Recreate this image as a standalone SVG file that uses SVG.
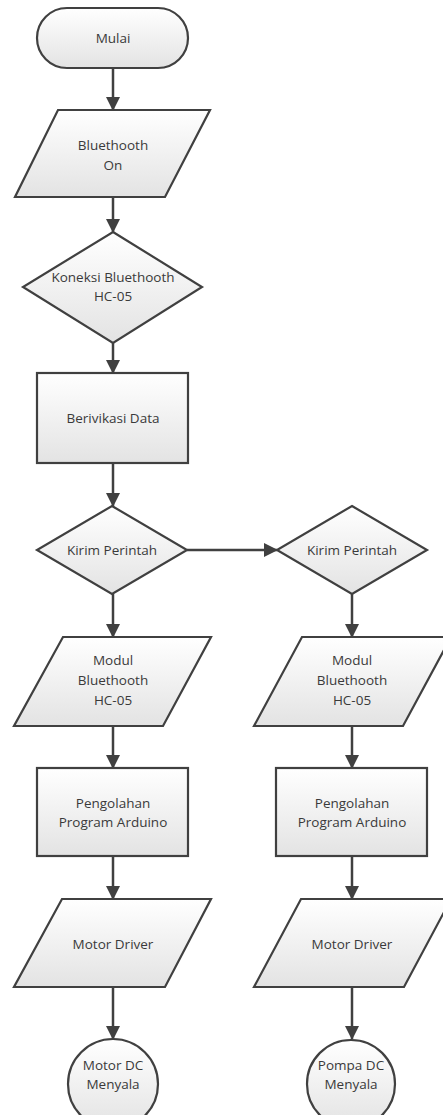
<svg xmlns="http://www.w3.org/2000/svg" width="443" height="1115" viewBox="0 0 443 1115">
<defs>
<linearGradient id="g" x1="0" y1="0" x2="0" y2="1">
<stop offset="0" stop-color="#ffffff"/>
<stop offset="1" stop-color="#e3e3e3"/>
</linearGradient>
<marker id="ah" markerWidth="14" markerHeight="14" refX="13" refY="7" orient="auto" markerUnits="userSpaceOnUse">
<path d="M0,0 L14,7 L0,14 Z" fill="#404040"/>
</marker>
</defs>
<style>
.s{fill:url(#g);stroke:#404040;stroke-width:2.2}
.t{font-family:"Open Sans","Liberation Sans",sans-serif;font-size:13.5px;fill:#3a3a3a;text-anchor:middle}
.c{stroke:#404040;stroke-width:2.5;fill:none;marker-end:url(#ah)}
</style>
<rect width="443" height="1115" fill="#fff"/>
<g id="connectors">
<line class="c" x1="113" y1="68" x2="113" y2="110"/>
<line class="c" x1="113" y1="197" x2="113" y2="232"/>
<line class="c" x1="113" y1="343" x2="113" y2="373"/>
<line class="c" x1="113" y1="463" x2="113" y2="506"/>
<line class="c" x1="187" y1="550" x2="277" y2="550"/>
<line class="c" x1="113" y1="594" x2="113" y2="637"/>
<line class="c" x1="352" y1="594" x2="352" y2="637"/>
<line class="c" x1="113" y1="726" x2="113" y2="768"/>
<line class="c" x1="352" y1="726" x2="352" y2="768"/>
<line class="c" x1="113" y1="856" x2="113" y2="899"/>
<line class="c" x1="352" y1="856" x2="352" y2="899"/>
<line class="c" x1="113" y1="987" x2="113" y2="1039"/>
<line class="c" x1="352" y1="987" x2="352" y2="1039"/>
</g>
<g id="mulai">
<rect class="s" x="37" y="8" width="151" height="60" rx="30"/>
<text class="t" x="113" y="43">Mulai</text>
</g>
<g id="bt-on">
<path class="s" d="M58,110 L210,110 L165,197 L15,197 Z"/>
<text class="t" x="113" y="150">Bluethooth</text>
<text class="t" x="113" y="170">On</text>
</g>
<g id="koneksi">
<path class="s" d="M113,232 L202,287 L113,343 L23,287 Z"/>
<text class="t" x="113" y="282">Koneksi Bluethooth</text>
<text class="t" x="113" y="301">HC-05</text>
</g>
<g id="verifikasi">
<rect class="s" x="37" y="373" width="151" height="90"/>
<text class="t" x="113" y="423">Berivikasi Data</text>
</g>
<g id="kirim1">
<path class="s" d="M112,506 L187,550 L112,594 L37,550 Z"/>
<text class="t" x="112" y="555">Kirim Perintah</text>
</g>
<g id="kirim2">
<path class="s" d="M352,506 L427,550 L352,594 L277,550 Z"/>
<text class="t" x="352" y="555">Kirim Perintah</text>
</g>
<g id="modul1">
<path class="s" d="M63,637 L211,637 L163,726 L14,726 Z"/>
<text class="t" x="113" y="665">Modul</text>
<text class="t" x="113" y="685">Bluethooth</text>
<text class="t" x="113" y="705">HC-05</text>
</g>
<g id="modul2">
<path class="s" d="M302,637 L451,637 L403,726 L254,726 Z"/>
<text class="t" x="352" y="665">Modul</text>
<text class="t" x="352" y="685">Bluethooth</text>
<text class="t" x="352" y="705">HC-05</text>
</g>
<g id="olah1">
<rect class="s" x="37" y="768" width="151" height="88"/>
<text class="t" x="113" y="808">Pengolahan</text>
<text class="t" x="113" y="827">Program Arduino</text>
</g>
<g id="olah2">
<rect class="s" x="276" y="768" width="151" height="88"/>
<text class="t" x="352" y="808">Pengolahan</text>
<text class="t" x="352" y="827">Program Arduino</text>
</g>
<g id="driver1">
<path class="s" d="M62,899 L211,899 L165,987 L14,987 Z"/>
<text class="t" x="113" y="949">Motor Driver</text>
</g>
<g id="driver2">
<path class="s" d="M301,899 L451,899 L404,987 L254,987 Z"/>
<text class="t" x="352" y="949">Motor Driver</text>
</g>
<g id="motor">
<circle class="s" cx="113" cy="1084" r="45"/>
<text class="t" x="113" y="1070">Motor DC</text>
<text class="t" x="113" y="1089">Menyala</text>
</g>
<g id="pompa">
<circle class="s" cx="351" cy="1084" r="44"/>
<text class="t" x="351" y="1070">Pompa DC</text>
<text class="t" x="351" y="1089">Menyala</text>
</g>
</svg>
